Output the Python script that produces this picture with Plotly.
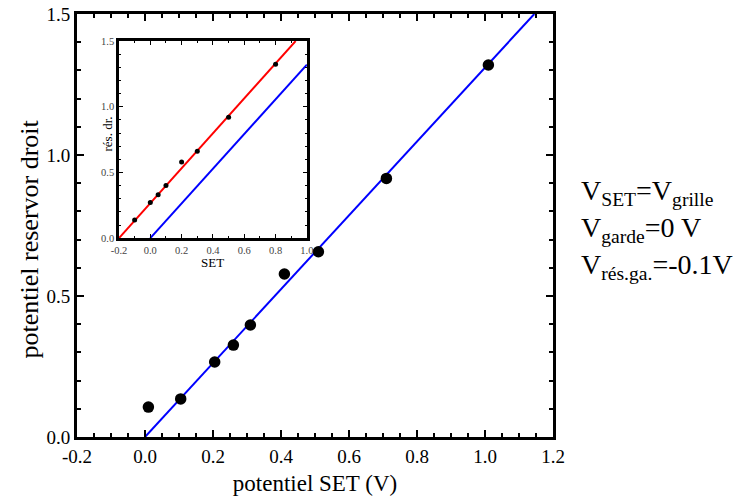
import plotly.graph_objects as go

# main data
main_x = [0.01, 0.105, 0.205, 0.26, 0.31, 0.41, 0.51, 0.71, 1.01]
main_y = [0.106, 0.135, 0.266, 0.326, 0.397, 0.578, 0.657, 0.917, 1.319]
blue_fit_x = [0.0, 1.145]
blue_fit_y = [0.0, 1.5]

# inset data
inset_x = [-0.1, 0.0, 0.05, 0.1, 0.2, 0.3, 0.5, 0.8]
inset_y = [0.139, 0.271, 0.33, 0.40, 0.58, 0.662, 0.921, 1.324]
red_fit_x = [-0.2, 0.928]
red_fit_y = [0.0, 1.5]
inset_blue_x = [0.0, 1.0]
inset_blue_y = [0.0, 1.32]

main_xticks = [-0.2, 0.0, 0.2, 0.4, 0.6, 0.8, 1.0, 1.2]
main_yticks = [0.0, 0.5, 1.0, 1.5]
inset_xticks = [-0.2, 0.0, 0.2, 0.4, 0.6, 0.8, 1.0]
inset_yticks = [0.0, 0.5, 1.0, 1.5]

SERIF = "Liberation Serif, Times New Roman, serif"

fig = go.Figure()
fig.add_trace(go.Scatter(x=blue_fit_x, y=blue_fit_y, mode="lines",
                         line=dict(color="#0000ff", width=2), showlegend=False,
                         xaxis="x", yaxis="y"))
fig.add_trace(go.Scatter(x=main_x, y=main_y, mode="markers",
                         marker=dict(color="black", size=11.5), showlegend=False,
                         xaxis="x", yaxis="y"))
fig.add_trace(go.Scatter(x=inset_blue_x, y=inset_blue_y, mode="lines",
                         line=dict(color="#0000ff", width=2), showlegend=False,
                         xaxis="x2", yaxis="y2"))
fig.add_trace(go.Scatter(x=red_fit_x, y=red_fit_y, mode="lines",
                         line=dict(color="#ff0000", width=2), showlegend=False,
                         xaxis="x2", yaxis="y2"))
fig.add_trace(go.Scatter(x=inset_x, y=inset_y, mode="markers",
                         marker=dict(color="black", size=5), showlegend=False,
                         xaxis="x2", yaxis="y2"))

axis_common = dict(showline=True, linecolor="black", mirror="ticks",
                   ticks="inside", tickcolor="black", showgrid=False,
                   zeroline=False, automargin=False)

fig.update_layout(
    width=741, height=502,
    margin=dict(l=77, r=188, t=14, b=65),
    paper_bgcolor="white", plot_bgcolor="white",
    font=dict(family=SERIF, color="black"),
    xaxis=dict(**axis_common, range=[-0.2, 1.2], domain=[0, 1],
               tickvals=main_xticks, ticktext=[f"{v:.1f}" for v in main_xticks],
               linewidth=3, ticklen=7, tickwidth=1.5,
               minor=dict(ticks="inside", dtick=0.05, ticklen=4, tickcolor="black", tickwidth=1.5),
               tickfont=dict(size=19, family=SERIF),
               title=dict(text="potentiel SET (V)", font=dict(size=23, family=SERIF), standoff=10)),
    yaxis=dict(**axis_common, range=[0, 1.5], domain=[0, 1],
               tickvals=main_yticks, ticktext=[f"{v:.1f}" for v in main_yticks],
               linewidth=3, ticklen=7, tickwidth=1.5,
               minor=dict(ticks="inside", dtick=0.1, ticklen=4, tickcolor="black", tickwidth=1.5),
               tickfont=dict(size=19, family=SERIF)),
    xaxis2=dict(**axis_common, range=[-0.2, 1.0], domain=[0.0882, 0.483], anchor="y2",
                tickvals=inset_xticks, ticktext=[f"{v:.1f}" for v in inset_xticks],
                linewidth=2.5, ticklen=4, tickwidth=1,
                minor=dict(ticks="inside", dtick=0.1, ticklen=2, tickcolor="black", tickwidth=1),
                tickfont=dict(size=10.5, family=SERIF, color="#444")),
    yaxis2=dict(**axis_common, range=[0, 1.5], domain=[0.470, 0.936], anchor="x2",
                tickvals=inset_yticks, ticktext=[f"{v:.1f}" for v in inset_yticks],
                linewidth=2.5, ticklen=4, tickwidth=1,
                minor=dict(ticks="inside", dtick=0.1, ticklen=2, tickcolor="black", tickwidth=1),
                tickfont=dict(size=10.5, family=SERIF, color="#444")),
    annotations=[
        dict(text="potentiel reservor droit", xref="paper", yref="paper",
             x=-0.1, y=0.468, xanchor="center", yanchor="middle", showarrow=False,
             textangle=-90, font=dict(size=26, family=SERIF)),
        dict(text="SET", xref="x2 domain", yref="y2 domain", x=0.5, y=-0.075,
             showarrow=False, font=dict(size=13, family=SERIF), yanchor="top"),
        dict(text="rés. dr.", xref="x2 domain", yref="y2 domain", x=-0.11, y=0.53,
             showarrow=False, font=dict(size=13, family=SERIF), textangle=-90),
        dict(text="V<sub>SET</sub>=V<sub>grille</sub>", xref="paper", yref="paper",
             x=1.055, y=0.577, xanchor="left", yanchor="middle", showarrow=False,
             font=dict(size=28, family=SERIF)),
        dict(text="V<sub>garde</sub>=0 V", xref="paper", yref="paper",
             x=1.055, y=0.49, xanchor="left", yanchor="middle", showarrow=False,
             font=dict(size=28, family=SERIF)),
        dict(text="V<sub>rés.ga.</sub>=-0.1V", xref="paper", yref="paper",
             x=1.055, y=0.403, xanchor="left", yanchor="middle", showarrow=False,
             font=dict(size=28, family=SERIF)),
    ],
)

fig.write_html("out.html", config={"displayModeBar": False},
               post_script="document.body.style.margin='0';document.body.style.padding='0';")
